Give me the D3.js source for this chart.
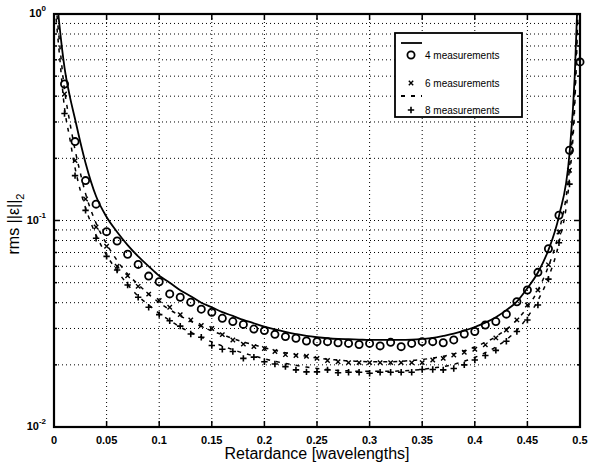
<!DOCTYPE html>
<html>
<head>
<meta charset="utf-8">
<script src="https://cdn.jsdelivr.net/npm/d3@7"></script>
<style>
  body { margin: 0; background: #fff; }
  svg { display: block; font-family: Arial, "Liberation Sans", sans-serif; }
  .grid line { stroke: #000; stroke-width: 1; stroke-dasharray: 1,3; }
</style>
</head>
<body>
<div id="chart"></div>
<script>
(function() {

  // x positions of the markers (retardance, wavelengths)
  var markerX = [0.01,0.02,0.03,0.04,0.05,0.06,0.07,0.08,0.09,0.10,
                 0.11,0.12,0.13,0.14,0.15,0.16,0.17,0.18,0.19,0.20,
                 0.21,0.22,0.23,0.24,0.25,0.26,0.27,0.28,0.29,0.30,
                 0.31,0.32,0.33,0.34,0.35,0.36,0.37,0.38,0.39,0.40,
                 0.41,0.42,0.43,0.44,0.45,0.46,0.47,0.48,0.49,0.50];

  var meas4 = [0.458,0.241,0.156,0.120,0.0883,0.0796,0.0686,0.0613,0.0538,0.0505,
               0.0441,0.0425,0.0402,0.0372,0.0359,0.0336,0.0324,0.0314,0.0298,0.0293,
               0.0281,0.0274,0.0269,0.0261,0.0259,0.0259,0.0256,0.0254,0.0251,0.0254,
               0.0247,0.0257,0.0245,0.0254,0.0259,0.0259,0.0256,0.0264,0.0282,0.0290,
               0.0312,0.0324,0.0352,0.0404,0.0461,0.0561,0.0730,0.106,0.219,0.586];

  var meas6 = [0.41,0.195,0.127,0.093,0.075,0.060,0.054,0.048,0.044,0.041,
               0.038,0.035,0.033,0.031,0.030,0.028,0.0264,0.0252,0.0245,0.0240,
               0.0232,0.0224,0.0222,0.0220,0.0215,0.0210,0.0207,0.0205,0.0205,0.0205,
               0.0205,0.0205,0.0205,0.0205,0.0205,0.0211,0.0215,0.0223,0.0230,0.0238,
               0.0250,0.0270,0.0295,0.0330,0.0390,0.0460,0.0610,0.088,0.175];

  var meas8 = [0.33,0.165,0.112,0.082,0.067,0.0576,0.0487,0.0425,0.038,0.035,
               0.0327,0.0308,0.0282,0.0272,0.0248,0.0238,0.0232,0.0215,0.0218,0.0207,
               0.0202,0.0196,0.0189,0.0185,0.0185,0.0189,0.0183,0.0184,0.0184,0.0182,
               0.0184,0.0184,0.0184,0.0184,0.0190,0.0190,0.0189,0.0192,0.0200,0.0211,
               0.0222,0.0235,0.0260,0.0290,0.0330,0.0390,0.0520,0.078,0.150];

  // x positions for the curves
  var curveX = [0.002,0.005,0.01,0.015,0.02,0.025,0.03,0.04,0.05,0.06,0.07,0.08,0.09,0.10,
                0.11,0.12,0.13,0.14,0.15,0.16,0.17,0.18,0.19,0.20,
                0.21,0.22,0.23,0.24,0.25,0.26,0.27,0.28,0.29,0.30,
                0.31,0.32,0.33,0.34,0.35,0.36,0.37,0.38,0.39,0.40,
                0.41,0.42,0.43,0.44,0.45,0.46,0.47,0.48,0.49,0.495,0.498];

  var curve4 = [1.3,0.9,0.55,0.40,0.31,0.24,0.19,0.131,0.104,0.088,0.076,0.067,0.060,0.054,
                0.050,0.046,0.043,0.040,0.038,0.036,0.0345,0.033,0.0318,0.0306,
                0.0297,0.0289,0.0282,0.0276,0.0272,0.0269,0.0267,0.0266,0.0265,0.0264,
                0.0264,0.0264,0.0264,0.0265,0.0267,0.027,0.0276,0.0283,0.0293,0.0305,
                0.032,0.034,0.0368,0.0405,0.047,0.056,0.072,0.105,0.21,0.50,1.3];

  var curve6 = [1.1,0.75,0.43,0.30,0.22,0.17,0.135,0.097,0.077,0.064,0.055,0.049,0.044,0.040,
                0.037,0.0345,0.0325,0.0307,0.0292,0.028,0.0268,0.0258,0.025,0.0242,
                0.0235,0.0229,0.0224,0.022,0.0216,0.0213,0.0211,0.0209,0.0208,0.0207,
                0.0207,0.0207,0.0208,0.021,0.0212,0.0216,0.022,0.0226,0.0234,0.0244,
                0.0257,0.0274,0.0297,0.033,0.038,0.046,0.060,0.088,0.18,0.40,1.1];

  var curve8 = [0.95,0.65,0.35,0.25,0.18,0.14,0.115,0.085,0.068,0.057,0.049,0.043,0.039,0.0355,
                0.0328,0.0305,0.0287,0.0272,0.0258,0.0247,0.0237,0.0228,0.0221,0.0214,
                0.0208,0.0203,0.0199,0.0195,0.0192,0.019,0.0188,0.0187,0.0186,0.0186,
                0.0186,0.0186,0.0187,0.0188,0.019,0.0193,0.0196,0.0201,0.0208,0.0217,
                0.0229,0.0244,0.0265,0.0294,0.034,0.041,0.053,0.078,0.16,0.36,1.0];

  var xTicks = [0,0.05,0.1,0.15,0.2,0.25,0.3,0.35,0.4,0.45,0.5];
  var xTickLabels = ["0","0.05","0.1","0.15","0.2","0.25","0.3","0.35","0.4","0.45","0.5"];
  var yTicks = [0.01,0.1,1];
  var yTickExp = ["-2","-1","0"];

  var legendItems = [
    {type: "line", dash: null, label: ""},
    {type: "o", label: "4 measurements"},
    {type: "x", label: "6 measurements"},
    {type: "line", dash: "4,6", label: ""},
    {type: "+", label: "8 measurements"}
  ];

  var width = 590, height = 467;
  var margin = {top: 14, right: 10, bottom: 40, left: 54};
  var chartWidth = width - margin.left - margin.right,
      chartHeight = height - margin.top - margin.bottom;

  var xScale = d3.scaleLinear()
      .domain([0, 0.5])
      .range([0, chartWidth]);

  var yScale = d3.scaleLog()
      .domain([0.01, 1])
      .range([chartHeight, 0]);

  var svg = d3.select('#chart').append('svg')
      .attr('width', width)
      .attr('height', height);

  var g = svg.append('g')
      .attr('transform', 'translate(' + margin.left + ',' + margin.top + ')');

  g.append('clipPath')
      .attr('id', 'clip')
    .append('rect')
      .attr('width', chartWidth)
      .attr('height', chartHeight);

  // minor log values for grid
  var yMinor = [];
  [0.01, 0.1].forEach(function(d) {
    for (var k = 1; k <= 9; k++) yMinor.push(d * k);
  });
  yMinor.push(1);

  var grid = g.append('g').attr('class', 'grid');

  grid.selectAll(null)
      .data(xTicks.slice(1, -1))
    .enter().append('line')
      .attr('x1', function(d) { return xScale(d); })
      .attr('x2', function(d) { return xScale(d); })
      .attr('y1', 0)
      .attr('y2', chartHeight);

  grid.selectAll(null)
      .data(yMinor.filter(function(d) { return d > 0.0101 && d < 0.99; }))
    .enter().append('line')
      .attr('x1', 0)
      .attr('x2', chartWidth)
      .attr('y1', function(d) { return yScale(d); })
      .attr('y2', function(d) { return yScale(d); });

  // ticks on all four sides, pointing in
  var ticks = g.append('g').attr('stroke', '#000').attr('stroke-width', 1.5);
  xTicks.forEach(function(d) {
    ticks.append('line').attr('x1', xScale(d)).attr('x2', xScale(d))
        .attr('y1', chartHeight).attr('y2', chartHeight - 6);
    ticks.append('line').attr('x1', xScale(d)).attr('x2', xScale(d))
        .attr('y1', 0).attr('y2', 6);
  });
  yMinor.forEach(function(d) {
    var len = yTicks.indexOf(d) >= 0 ? 6 : 3;
    ticks.append('line').attr('x1', 0).attr('x2', len)
        .attr('y1', yScale(d)).attr('y2', yScale(d));
    ticks.append('line').attr('x1', chartWidth).attr('x2', chartWidth - len)
        .attr('y1', yScale(d)).attr('y2', yScale(d));
  });

  // curves
  var line = d3.line()
      .x(function(d) { return xScale(d[0]); })
      .y(function(d) { return yScale(d[1]); })
      .curve(d3.curveMonotoneX);

  var plot = g.append('g').attr('clip-path', 'url(#clip)');

  [[curve4, null, 1.8], [curve6, '4,6', 1.5], [curve8, '4,6', 1.5]].forEach(function(c) {
    plot.append('path')
        .datum(d3.zip(curveX, c[0]))
        .attr('d', line)
        .attr('fill', 'none')
        .attr('stroke', '#000')
        .attr('stroke-width', c[2])
        .attr('stroke-dasharray', c[1]);
  });

  function drawMarker(sel, type) {
    if (type === 'o') {
      sel.append('circle').attr('r', 3.6)
          .attr('fill', 'none').attr('stroke', '#000').attr('stroke-width', 1.8);
    } else if (type === 'x') {
      sel.append('path').attr('d', 'M-2.2,-2.2L2.2,2.2M-2.2,2.2L2.2,-2.2')
          .attr('stroke', '#000').attr('stroke-width', 1.4);
    } else {
      sel.append('path').attr('d', 'M-3.2,0L3.2,0M0,-3.2L0,3.2')
          .attr('stroke', '#000').attr('stroke-width', 1.6);
    }
  }

  // frame
  g.append('rect')
      .attr('width', chartWidth)
      .attr('height', chartHeight)
      .attr('fill', 'none')
      .attr('stroke', '#000')
      .attr('stroke-width', 2.2);

  // markers (not clipped, so the point on the right edge shows whole)
  [[meas4, 'o'], [meas6, 'x'], [meas8, '+']].forEach(function(m) {
    g.selectAll(null)
        .data(d3.zip(markerX, m[0]))
      .enter().append('g')
        .attr('transform', function(d) {
          return 'translate(' + xScale(d[0]) + ',' + yScale(d[1]) + ')';
        })
        .each(function() { drawMarker(d3.select(this), m[1]); });
  });

  // tick labels
  g.selectAll(null)
      .data(xTicks)
    .enter().append('text')
      .attr('x', function(d) { return xScale(d); })
      .attr('y', chartHeight + 17)
      .attr('text-anchor', 'middle')
      .attr('font-size', 11)
      .attr('font-weight', 'bold')
      .text(function(d, i) { return xTickLabels[i]; });

  var yl = g.selectAll(null)
      .data(yTicks)
    .enter().append('text')
      .attr('x', -8)
      .attr('y', function(d) { return yScale(d) + 3; })
      .attr('text-anchor', 'end')
      .attr('font-size', 11)
      .attr('font-weight', 'bold');
  yl.append('tspan').text('10');
  yl.append('tspan')
      .attr('dy', -6)
      .attr('font-size', 8)
      .text(function(d, i) { return yTickExp[i]; });

  // axis titles
  svg.append('text')
      .attr('x', margin.left + chartWidth / 2)
      .attr('y', 459)
      .attr('text-anchor', 'middle')
      .attr('font-size', 16)
      .text('Retardance [wavelengths]');

  var yt = svg.append('text')
      .attr('transform', 'translate(19,' + 224 + ') rotate(-90)')
      .attr('text-anchor', 'middle')
      .attr('font-size', 16);
  yt.append('tspan').text('rms ||ε||');
  yt.append('tspan').attr('dy', 5).attr('font-size', 11).text('2');

  // legend
  var legend = svg.append('g')
      .attr('transform', 'translate(395,33)');

  legend.append('rect')
      .attr('width', 127)
      .attr('height', 84)
      .attr('fill', '#fff')
      .attr('stroke', '#000')
      .attr('stroke-width', 1.8);

  var rowY = [10, 22, 50, 63, 77];
  legendItems.forEach(function(d, i) {
    var row = legend.append('g').attr('transform', 'translate(0,' + rowY[i] + ')');
    if (d.type === 'line') {
      row.append('line')
          .attr('x1', 6).attr('x2', 27)
          .attr('stroke', '#000').attr('stroke-width', 1.8)
          .attr('stroke-dasharray', d.dash);
    } else {
      var mk = row.append('g').attr('transform', 'translate(16,0)');
      drawMarker(mk, d.type);
    }
    row.append('text')
        .attr('x', 30)
        .attr('y', 3.5)
        .attr('font-size', 10)
        .text(d.label);
  });

})()
</script>
</body>
</html>
